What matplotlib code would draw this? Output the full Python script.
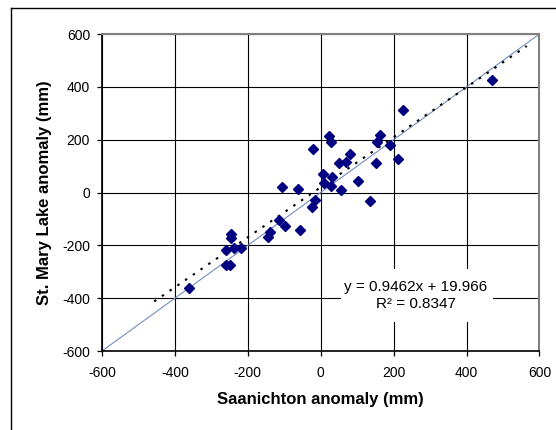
import matplotlib
matplotlib.use("Agg")
import matplotlib.pyplot as plt
from matplotlib.patches import Rectangle
from matplotlib.lines import Line2D
import numpy as np

plt.rcParams['font.family'] = ['Liberation Sans', 'DejaVu Sans']
plt.rcParams['axes.unicode_minus'] = False

# Precipitation anomalies (mm)
saanichton = [-362, -261, -250, -261, -238, -220, -247, -247, -144, -138,
              -115, -99, -57, -105, -62, -20, -17, -24, 6, 10,
              23, 29, 28, 32, 55, 50, 69, 81, 103, 135,
              151, 154, 163, 190, 213, 225, 470]
st_mary = [-361, -273, -273, -218, -211, -211, -157, -174, -170, -151,
           -104, -128, -141, 21, 12, 164, -29, -56, 70, 35,
           215, 193, 26, 59, 9, 111, 116, 144, 45, -31,
           112, 192, 216, 180, 128, 312, 426]

# Linear trendline (Excel style) and fit stats
slope = 0.9462
intercept = 19.966
r_squared = 0.8347
forecast = 95

ticks = [-600, -400, -200, 0, 200, 400, 600]

fig = plt.figure(figsize=(5.56, 4.30), dpi=100)
ax = fig.add_axes([0.1835, 0.1837, 0.9703 - 0.1835, 0.9209 - 0.1837])

ax.set_xlim(-600, 600)
ax.set_ylim(-600, 600)
ax.set_xticks(ticks)
ax.set_yticks(ticks)
ax.grid(True, color='black', linewidth=0.8, zorder=0)
ax.set_axisbelow(True)

# 1:1 reference line
ax.plot([-600, 600], [-600, 600], color='#7090bd', linewidth=0.8, zorder=2)

# dotted regression line
x = np.array(saanichton)
tx = np.array([x.min() - forecast, x.max() + forecast])
ax.plot(tx, slope * tx + intercept, color='black', linewidth=1.5,
        linestyle=(0, (1.2, 3.3)), zorder=3)

ax.plot(saanichton, st_mary, linestyle='none', marker='D', markersize=4.6,
        color='#000080', zorder=4)

# equation label on a white patch
ax.add_patch(Rectangle((55, -492), 417, 204, facecolor='white',
                       edgecolor='none', zorder=1.5))
ax.text(261, -391, f"y = {slope}x + {intercept}\nR² = {r_squared}",
        ha='center', va='center', fontsize=11, linespacing=1.3, zorder=5)

for s in ['left', 'bottom']:
    ax.spines[s].set_color('black')
    ax.spines[s].set_linewidth(1.2)
for s in ['top', 'right']:
    ax.spines[s].set_color('#808080')
    ax.spines[s].set_linewidth(1.5)

ax.tick_params(direction='out', length=3.6, width=0.9, colors='black',
               labelsize=10)
ax.tick_params(axis='x', pad=7)
ax.tick_params(axis='y', pad=5)

ax.set_xlabel('Saanichton anomaly (mm)', fontsize=12, fontweight='bold',
              labelpad=9)
ax.set_ylabel('St. Mary Lake anomaly (mm)', fontsize=12, fontweight='bold',
              labelpad=7)

# chart frame edges
fig.add_artist(Line2D([11 / 556, 11 / 556], [0, 1 - 8 / 430],
                      transform=fig.transFigure, color='black', linewidth=1))
fig.add_artist(Line2D([11 / 556, 1], [1 - 8 / 430, 1 - 8 / 430],
                      transform=fig.transFigure, color='black', linewidth=1))

fig.savefig('out.png', dpi=100)
